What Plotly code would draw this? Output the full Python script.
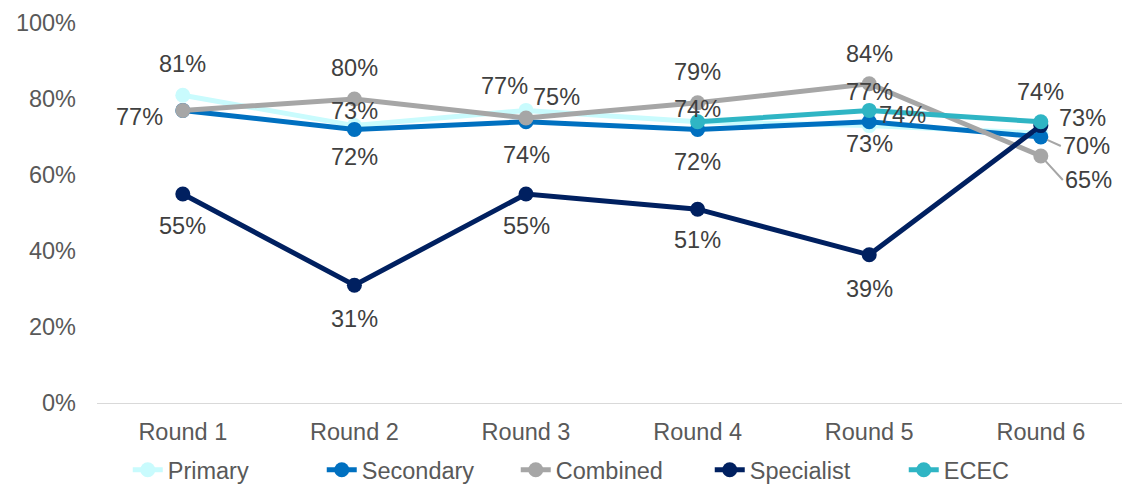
import plotly.graph_objects as go

rounds = ["Round 1", "Round 2", "Round 3", "Round 4", "Round 5", "Round 6"]

primary = [81, 73, 77, 74, 73, 71]
secondary = [77, 72, 74, 72, 74, 70]
combined = [77, 80, 75, 79, 84, 65]
specialist = [55, 31, 55, 51, 39, 73]
ecec = [None, None, None, 74, 77, 74]

series = [
    ("Primary", primary, "#C9FBFD"),
    ("Secondary", secondary, "#0070C0"),
    ("Combined", combined, "#A6A6A6"),
    ("Specialist", specialist, "#002060"),
    ("ECEC", ecec, "#2FB5C4"),
]

# label placement per point: round index -> (x offset px, y offset px)
label_offsets = {
    "Primary": {0: (0, 31), 1: (0, 15), 2: (-22, 24), 4: (0, -18)},
    "Secondary": {0: (-43, -7), 1: (0, -28), 2: (0, -33), 3: (0, -33), 4: (33, 7)},
    "Combined": {1: (0, 31), 2: (30, 21), 3: (0, 31), 4: (0, 30)},
    "Specialist": {0: (0, -32), 1: (0, -34), 2: (0, -32), 3: (0, -31), 4: (0, -34), 5: (42, 8)},
    "ECEC": {3: (0, 13), 4: (0, 18), 5: (0, 30)},
}
# labels tied to their point with a leader line: (round index, ax, ay)
leader_labels = {
    "Secondary": (5, 20, 9),
    "Combined": (5, 22, 24),
}

FONT = "Liberation Sans, Arial, sans-serif"
TEXT_SIZE = 23.5

# plot area spans 23..432 px; the value axis occupies its upper part (23..403 px)
TOP, BOTTOM, HEIGHT = 23, 60, 492
area_h = HEIGHT - TOP - BOTTOM
axis_h = 380

fig = go.Figure()
for name, vals, color in series:
    fig.add_trace(go.Scatter(
        x=list(range(len(rounds))), y=vals, name=name,
        mode="lines+markers",
        line=dict(color=color, width=5),
        marker=dict(color=color, size=15),
        connectgaps=False,
    ))

label_font = dict(family=FONT, size=TEXT_SIZE, color="#404040")
annotations = []
for name, vals, color in series:
    for i, (dx, dy) in label_offsets.get(name, {}).items():
        annotations.append(dict(
            x=i, y=vals[i], text=f"{vals[i]}%", showarrow=False,
            xshift=dx, yshift=dy, font=label_font,
        ))
    if name in leader_labels:
        i, ax, ay = leader_labels[name]
        annotations.append(dict(
            x=i, y=vals[i], text=f"{vals[i]}%", showarrow=True,
            arrowhead=0, arrowwidth=2, arrowcolor="#A6A6A6", standoff=7,
            ax=ax, ay=ay, xanchor="left", font=label_font,
        ))

fig.update_layout(
    width=1122, height=HEIGHT,
    margin=dict(l=97, r=0, t=TOP, b=BOTTOM),
    paper_bgcolor="white", plot_bgcolor="white",
    font=dict(family=FONT, size=TEXT_SIZE, color="#595959"),
    showlegend=True,
    legend=dict(orientation="h", x=0.03, xanchor="left",
                y=-BOTTOM / area_h, yanchor="bottom",
                font=dict(family=FONT, size=TEXT_SIZE, color="#595959"),
                entrywidth=149, entrywidthmode="pixels"),
    annotations=annotations,
    xaxis=dict(
        range=[-0.5, 5.473], tickvals=list(range(len(rounds))), ticktext=rounds,
        showgrid=False, zeroline=False, showline=True, linecolor="#D9D9D9", linewidth=1,
        ticks="", ticklabelstandoff=8, tickfont=dict(size=TEXT_SIZE, color="#595959"),
        anchor="y",
    ),
    yaxis=dict(
        domain=[1 - axis_h / area_h, 1],
        range=[0, 100], tickvals=[0, 20, 40, 60, 80, 100],
        ticktext=["0%", "20%", "40%", "60%", "80%", "100%"],
        showgrid=False, zeroline=False, showline=False, ticks="",
        ticklabelstandoff=20, tickfont=dict(size=TEXT_SIZE, color="#595959"),
    ),
)

fig.write_html("out.html")
